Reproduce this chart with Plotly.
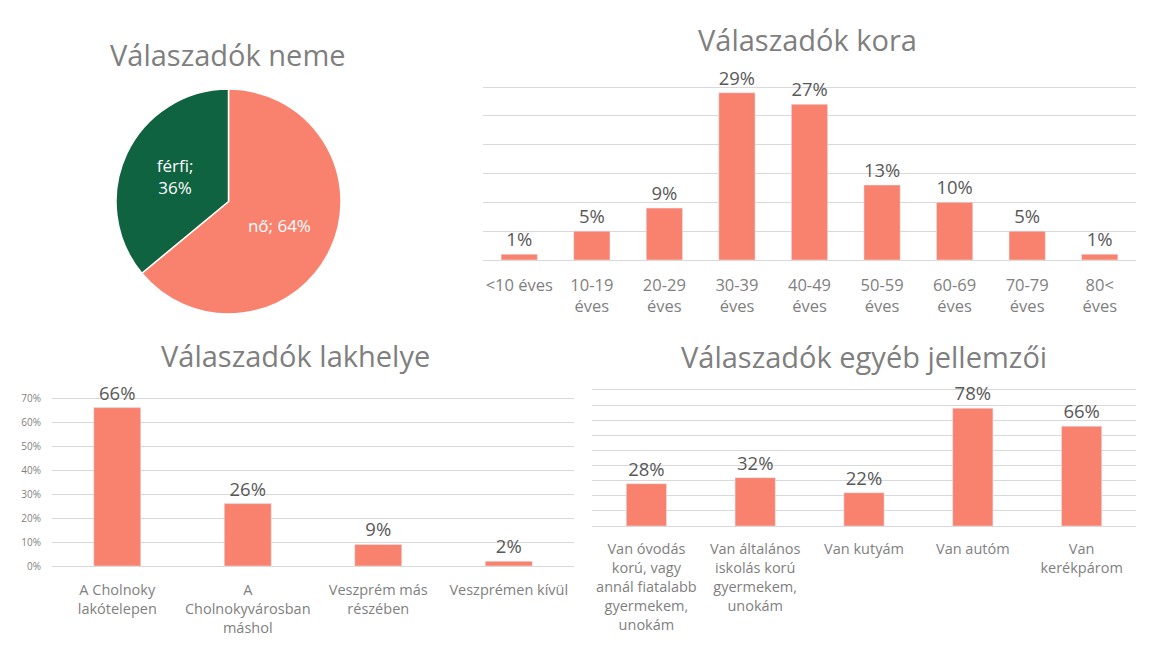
import plotly.graph_objects as go

W, H = 1160, 653

# ---- data ----
gender_labels = ["nő", "férfi"]
gender_values = [64, 36]

age_cats = ["<10 éves", "10-19<br>éves", "20-29<br>éves", "30-39<br>éves", "40-49<br>éves",
            "50-59<br>éves", "60-69<br>éves", "70-79<br>éves", "80<<br>éves"]
age_vals = [1, 5, 9, 29, 27, 13, 10, 5, 1]

res_cats = ["A Cholnoky<br>lakótelepen", "A<br>Cholnokyvárosban<br>máshol",
            "Veszprém más<br>részében", "Veszprémen kívül"]
res_vals = [66, 26, 9, 2]

oth_cats = ["Van óvodás<br>korú, vagy<br>annál fiatalabb<br>gyermekem,<br>unokám",
            "Van általános<br>iskolás korú<br>gyermekem,<br>unokám",
            "Van kutyám", "Van autóm", "Van<br>kerékpárom"]
oth_vals = [28, 32, 22, 78, 66]

# ---- styles ----
FONT = "Open Sans"
SALMON = "#F9826F"
GREEN = "#0F6341"
GRID = "#D9D9D9"
TITLE_C = "#7F7F7F"
LABEL_C = "#595959"
TICK_C = "#7F7F7F"

def px(x):
    return x / W

def py(y):
    return 1 - y / H

def ydom(y0, y1, vmax, pad=1.012):
    """baseline pixel y0, top gridline pixel y1 (value vmax) -> domain, range"""
    top = y0 - (y0 - y1) * pad
    return [py(y0), py(top)], [0, vmax * pad]

fig = go.Figure()

fig.add_trace(go.Pie(
    labels=gender_labels, values=gender_values,
    sort=False, direction="clockwise", rotation=0,
    marker=dict(colors=[SALMON, GREEN], line=dict(color="white", width=1.5)),
    texttemplate=["%{label}; %{percent:.0%}", "%{label};<br>%{percent:.0%}"],
    textposition="inside", insidetextorientation="horizontal",
    textfont=dict(family=FONT, size=17, color="white"),
    domain=dict(x=[px(116), px(341)], y=[py(314), py(89)]),
    showlegend=False, hoverinfo="label+percent",
))

def bar(cats, vals, xa, ya, width):
    fig.add_trace(go.Bar(
        x=cats, y=vals, xaxis=xa, yaxis=ya, width=width,
        marker=dict(color=SALMON),
        text=[f"{v}%" for v in vals], textposition="outside",
        textfont=dict(family=FONT, size=18.5, color=LABEL_C),
        cliponaxis=False, showlegend=False,
    ))

bar(age_cats, age_vals, "x", "y", 0.5)
bar(res_cats, res_vals, "x2", "y2", 0.36)
bar(oth_cats, oth_vals, "x3", "y3", 0.37)

def xaxis(domain, anchor, size, ticklen):
    return dict(domain=domain, anchor=anchor,
                showgrid=False, zeroline=False, showline=True, linecolor=GRID, linewidth=1,
                ticks="outside", ticklen=ticklen, tickcolor="rgba(0,0,0,0)", tickangle=0,
                automargin=False, fixedrange=True,
                tickfont=dict(family=FONT, size=size, color=TICK_C))

ycommon = dict(showgrid=True, gridcolor=GRID, gridwidth=1, zeroline=False, fixedrange=True,
               automargin=False)

d1, r1 = ydom(260, 87, 30)
d2, r2 = ydom(566, 398, 70)
d3, r3 = ydom(526, 390, 90)

fig.update_layout(
    width=W, height=H,
    margin=dict(l=0, r=0, t=0, b=0, pad=0),
    paper_bgcolor="white", plot_bgcolor="white",
    font=dict(family=FONT, color=TICK_C),
    xaxis=xaxis([px(483), px(1136)], "y", 16.5, 10),
    yaxis=dict(domain=d1, anchor="x", range=r1, dtick=5,
               showticklabels=False, **ycommon),
    xaxis2=xaxis([px(52), px(574)], "y2", 14.5, 11),
    yaxis2=dict(domain=d2, anchor="x2", range=r2, dtick=10,
                showticklabels=True, ticksuffix="%", ticks="outside", ticklen=8,
                tickcolor="rgba(0,0,0,0)",
                tickfont=dict(family=FONT, size=10, color=TICK_C), **ycommon),
    xaxis3=xaxis([px(592), px(1136)], "y3", 14.5, 10),
    yaxis3=dict(domain=d3, anchor="x3", range=r3, dtick=10,
                showticklabels=False, **ycommon),
)

titles = [
    ("Válaszadók neme", 228, 55),
    ("Válaszadók kora", 808, 40),
    ("Válaszadók lakhelye", 295, 355),
    ("Válaszadók egyéb jellemzői", 864, 357),
]
for t, x, y in titles:
    fig.add_annotation(text=t, x=px(x), y=py(y), xref="paper", yref="paper",
                       xanchor="center", yanchor="middle", showarrow=False,
                       font=dict(family=FONT, size=29, color=TITLE_C))

fig.write_html("out.html", config={"displayModeBar": False},
               post_script="document.body.style.margin='0';document.body.style.overflow='hidden';")
